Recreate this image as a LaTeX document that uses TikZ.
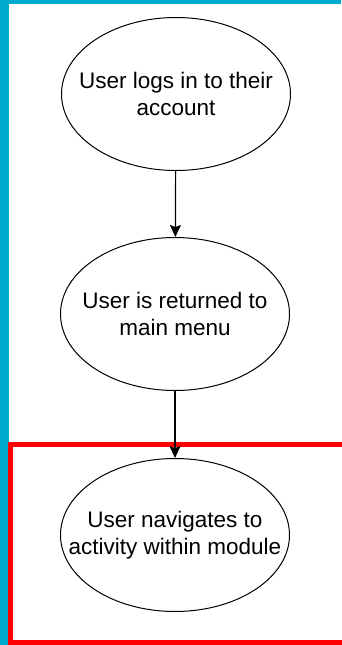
\documentclass[tikz,border=0pt]{standalone}
\usepackage{fontspec}
\setmainfont{Liberation Sans}
\usepackage{xcolor}
\usetikzlibrary{shapes.geometric,arrows.meta}
\definecolor{framecyan}{RGB}{0,172,205}

\begin{document}
\begin{tikzpicture}[x=1pt, y=-1pt,
        state/.style={ellipse, draw, line width=1pt, minimum width=229pt, minimum height=153pt,
            inner xsep=-40pt, inner ysep=0pt, align=center, font=\fontsize{22.5}{27}\selectfont},
        flow/.style={-{Stealth[length=12pt, width=11pt, inset=2pt]}, line width=1.2pt}]
            \useasboundingbox (0, 0) rectangle (341, 645);
            \fill[white] (0, 0) rectangle (341, 645);
            \fill[framecyan] (0, 0) rectangle (341, 4);
            \fill[framecyan] (0, 0) rectangle (9, 645);
            \draw[red, line width=5pt] (10.5, 444) rectangle (346, 642.5);

            \node[state] (login) at (176, 94) {User logs in to their\\account};
            \node[state] (menu) at (175, 314) {User is returned to\\main menu};
            \node[state] (activity) at (175, 535) {User navigates to\\activity within module};

            \draw[flow] (login) -- (menu);
            \draw[flow] (menu) -- (activity);
        \end{tikzpicture}
\end{document}
